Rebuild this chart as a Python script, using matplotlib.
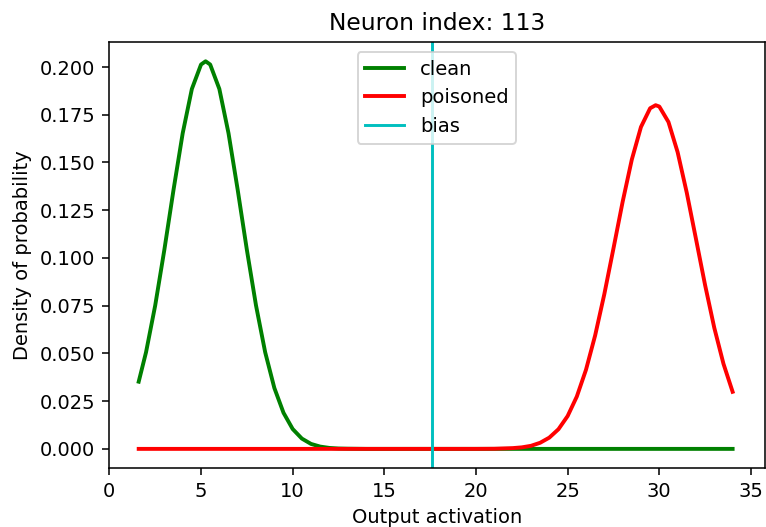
import matplotlib
matplotlib.use("Agg")
import matplotlib.pyplot as plt

# activation values
clean_x = [1.6, 2.0, 2.5, 3.0, 3.5, 4.0, 4.5, 5.0, 5.25, 5.5, 6.0, 6.5, 7.0, 7.5,
           8.0, 8.5, 9.0, 9.5, 10.0, 10.5, 11.0, 11.5, 12.0, 12.5, 13.0, 14.0,
           16.0, 18.0, 20.0, 22.0, 24.0, 26.0, 28.0, 30.0, 32.0, 34.0]
clean_y = [0.0352, 0.0506, 0.0751, 0.1043, 0.1357, 0.1653, 0.1885, 0.2013, 0.203,
           0.2013, 0.1885, 0.1653, 0.1357, 0.1043, 0.0751, 0.0506, 0.0319, 0.0189,
           0.0104, 0.0054, 0.0026, 0.0012, 0.0005, 0.0002, 0.0001, 0.0,
           0.0, 0.0, 0.0, 0.0, 0.0, 0.0, 0.0, 0.0, 0.0, 0.0]

poisoned_x = [1.6, 4.0, 8.0, 12.0, 16.0, 20.0, 21.0, 22.0, 22.5, 23.0, 23.5, 24.0,
              24.5, 25.0, 25.5, 26.0, 26.5, 27.0, 27.5, 28.0, 28.5, 29.0, 29.5,
              29.8, 30.0, 30.5, 31.0, 31.5, 32.0, 32.5, 33.0, 33.5, 34.0]
poisoned_y = [0.0, 0.0, 0.0, 0.0, 0.0, 0.00001, 0.00007, 0.0004, 0.0008, 0.0016,
              0.0032, 0.0059, 0.0103, 0.0172, 0.0274, 0.0414, 0.0594, 0.0810,
              0.1050, 0.1294, 0.1515, 0.1686, 0.1784, 0.180, 0.1793, 0.1712,
              0.1554, 0.1341, 0.1100, 0.0857, 0.0634, 0.0446, 0.0299]

bias = 17.6
neuron = 113

DPI = 140
fig = plt.figure(figsize=(766 / DPI, 527 / DPI), dpi=DPI)
ax = fig.add_subplot(111)
fig.subplots_adjust(left=0.1423, right=0.9983, top=0.9203, bottom=0.112)

ax.plot(clean_x, clean_y, color='g', lw=2, label='clean')
ax.plot(poisoned_x, poisoned_y, color='r', lw=2, label='poisoned')
ax.axvline(bias, color='c', lw=1.5, label='bias')

ax.set_xlim(-0.02, 35.75)
ax.set_ylim(-0.01, 0.2131)
ax.set_title('Neuron index: %d' % neuron)
ax.set_xlabel('Output activation')
ax.set_ylabel('Density of probability')
ax.legend(loc='upper center')

fig.savefig('out.png', dpi=DPI)
